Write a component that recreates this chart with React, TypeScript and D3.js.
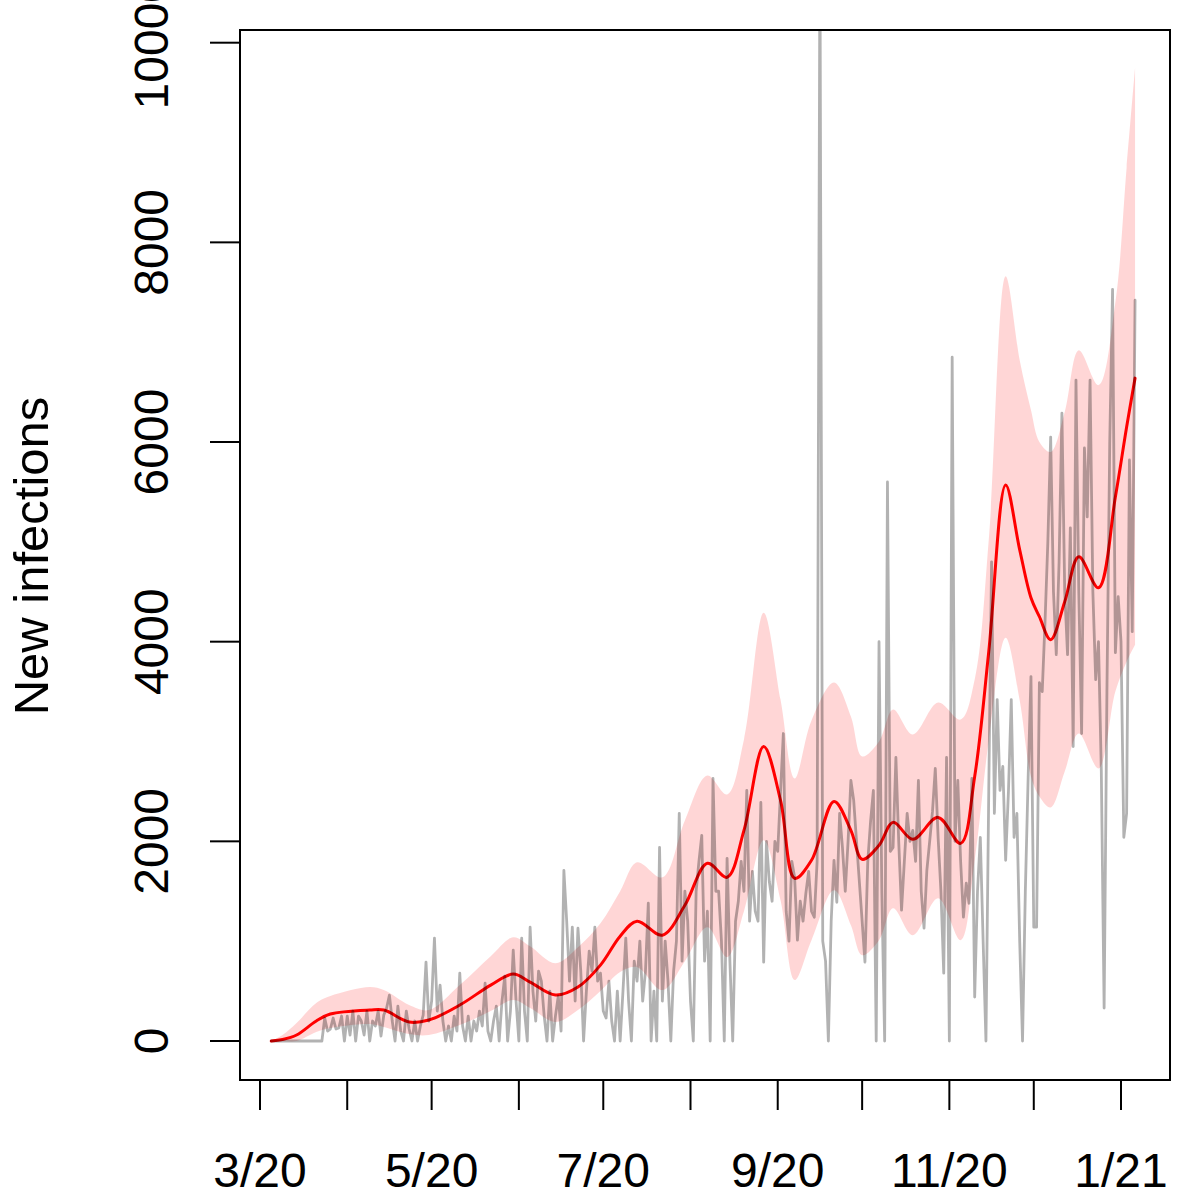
import * as d3 from 'd3'

// daily reported cases, one value per day starting 2020-03-05
const firstDay = Date.UTC(2020, 2, 5)
const newCases = [
  0, 0, 0, 0, 0, 0, 0, 0, 0, 0,
  0, 0, 0, 0, 0, 0, 0, 0, 0, 230,
  100, 120, 230, 120, 130, 250, 0, 250, 60, 300,
  0, 250, 200, 60, 300, 0, 200, 150, 300, 50,
  260, 330, 460, 200, 0, 350, 100, 0, 300, 120,
  0, 200, 0, 150, 260, 790, 200, 400, 1030, 300,
  560, 200, 0, 150, 0, 250, 100, 680, 150, 0,
  250, 0, 200, 100, 300, 150, 580, 100, 0, 200,
  350, 0, 400, 650, 0, 300, 910, 400, 0, 1030,
  300, 0, 1140, 500, 200, 700, 600, 250, 0, 500,
  0, 250, 450, 100, 1710, 1200, 600, 1140, 400, 1130,
  700, 0, 500, 900, 700, 1140, 600, 680, 300, 230,
  600, 200, 0, 500, 0, 500, 1030, 400, 0, 800,
  600, 1000, 400, 700, 1380, 0, 500, 0, 1940, 400,
  1000, 600, 0, 700, 1000, 2280, 800, 1500, 1200, 400,
  0, 1500, 1800, 2060, 800, 1300, 0, 2630, 1500, 1500,
  1000, 0, 1830, 800, 0, 1200, 1400, 1800, 1500, 2510,
  1200, 1700, 1300, 1200, 2390, 790, 2000, 1600, 1400, 2000,
  1900, 2500, 3080, 1300, 1000, 1800, 1640, 1010, 1400, 1200,
  1480, 1700, 1300, 1240, 1800, 11000, 1000, 800, 0, 1200,
  1810, 1390, 2280, 1940, 1500, 2000, 2610, 2410, 2000, 1600,
  1200, 790, 1800, 2200, 2510, 0, 4000, 1500, 0, 5600,
  1900, 1940, 2840, 2000, 1310, 1800, 2280, 2000, 2110, 1800,
  2610, 1500, 1130, 1710, 2000, 2300, 2730, 2040, 1500, 680,
  2840, 0, 6850, 2000, 2610, 1800, 1240, 1580, 1380, 2630,
  440, 1500, 2040, 1000, 0, 2500, 4800, 2280, 3420, 2510,
  2750, 1810, 2500, 3420, 2040, 2280, 1000, 0, 1500, 2640,
  3650, 1140, 1140, 3590, 3500, 4200, 5000, 6050, 4500, 3870,
  4800, 6290, 4500, 3870, 5140, 2950, 6620, 4500, 3080, 5940,
  5250, 6620, 4500, 3620, 4000, 2710, 330, 3500, 6000, 7530,
  3890, 4450, 4000, 2040, 2280, 5820, 4100, 7420,
]

// smoothed estimate and its band, knots in days since 2020-03-01
const dayZero = Date.UTC(2020, 2, 1)
const fitDays = [4, 8, 13, 20, 25, 39, 44, 53, 60, 71, 82, 90, 96, 105, 113, 121, 128, 134, 143, 151, 159, 166, 172, 179, 185, 190, 196, 204, 210, 214, 220, 225, 232, 241, 249, 254, 259, 265, 270, 274, 277, 281, 286, 291, 298, 304, 308, 311]
const fitValues = [0, 15, 60, 200, 270, 310, 310, 190, 210, 360, 560, 670, 590, 460, 540, 760, 1050, 1200, 1060, 1360, 1780, 1640, 2110, 2950, 2410, 1630, 1810, 2400, 2110, 1820, 1960, 2190, 2020, 2240, 1980, 2650, 3900, 5570, 4920, 4440, 4250, 4020, 4400, 4850, 4540, 5450, 6150, 6640]
const upperValues = [0, 60, 180, 380, 450, 540, 510, 360, 310, 560, 850, 1040, 950, 780, 940, 1180, 1500, 1790, 1640, 2210, 2660, 2470, 3020, 4290, 3420, 2630, 3210, 3590, 3250, 2850, 3000, 3320, 3070, 3390, 3220, 3620, 5020, 7660, 6820, 6320, 6000, 5900, 6300, 6920, 6570, 7400, 8750, 9750]
const lowerValues = [0, 0, 0, 90, 130, 170, 140, 70, 60, 160, 300, 410, 330, 190, 310, 500, 690, 740, 510, 800, 1140, 840, 1300, 2010, 1410, 610, 1010, 1510, 1160, 860, 1010, 1330, 1060, 1430, 1010, 1810, 3010, 4040, 3410, 2650, 2450, 2340, 2700, 3080, 2730, 3500, 3800, 3970]

const monthTicks = ['2020-03-01', '2020-04-01', '2020-05-01', '2020-06-01', '2020-07-01', '2020-08-01', '2020-09-01', '2020-10-01', '2020-11-01', '2020-12-01', '2021-01-01']
const monthLabels = ['3/20', '', '5/20', '', '7/20', '', '9/20', '', '11/20', '', '1/21']
const yTicks = [0, 2000, 4000, 6000, 8000, 10000]

const DAY = 86400000
const box = { left: 240, right: 1170, top: 30, bottom: 1080 }
const font = '"Liberation Sans", Arial, Helvetica, sans-serif'

export default function App() {
  const x = d3.scaleUtc()
    .domain([new Date('2020-03-01T00:00:00Z'), new Date('2021-01-01T00:00:00Z')])
    .range([260, 1121])
  const y = d3.scaleLinear().domain([0, 10000]).range([1041, 42.7])

  const cases = newCases.map((v, i) => ({ date: new Date(firstDay + i * DAY), v }))
  const knot = (d: number) => new Date(dayZero + d * DAY)

  const rawLine = d3.line<{ date: Date; v: number }>()
    .x(d => x(d.date)).y(d => y(d.v))
  const smooth = d3.line<[number, number]>()
    .x(d => x(knot(d[0]))).y(d => y(d[1]))
    .curve(d3.curveCatmullRom.alpha(0.5))

  const fit = fitDays.map((d, i) => [d, fitValues[i]] as [number, number])
  const upper = fitDays.map((d, i) => [d, upperValues[i]] as [number, number])
  const lower = fitDays.map((d, i) => [d, lowerValues[i]] as [number, number]).reverse()
  const bandPath = smooth(upper) + 'L' + (smooth(lower) || '').slice(1) + 'Z'

  return (
    <svg width={1200} height={1200} style={{ position: 'absolute', left: 0, top: 0, background: '#fff' }}>
      <defs>
        <clipPath id="plotArea">
          <rect x={box.left} y={box.top} width={box.right - box.left} height={box.bottom - box.top} />
        </clipPath>
      </defs>

      <g clipPath="url(#plotArea)">
        <path d={bandPath} fill="#ff0000" fillOpacity={0.16} stroke="none" />
        <path d={smooth(fit) || ''} fill="none" stroke="#ff0000" strokeWidth={3} strokeLinejoin="round" strokeLinecap="round" />
        <path d={rawLine(cases) || ''} fill="none" stroke="#000" strokeOpacity={0.3} strokeWidth={2.8} strokeLinejoin="round" strokeLinecap="round" />
      </g>

      <rect x={box.left} y={box.top} width={box.right - box.left} height={box.bottom - box.top}
        fill="none" stroke="#000" strokeWidth={2} />

      {monthTicks.map((m, i) => {
        const tx = x(new Date(m + 'T00:00:00Z'))
        return (
          <g key={m}>
            <line x1={tx} x2={tx} y1={box.bottom} y2={box.bottom + 30} stroke="#000" strokeWidth={2} />
            {monthLabels[i] && (
              <text x={tx} y={1187} textAnchor="middle" fontFamily={font} fontSize={48}>{monthLabels[i]}</text>
            )}
          </g>
        )
      })}

      {yTicks.map(t => (
        <g key={t}>
          <line x1={box.left - 30} x2={box.left} y1={y(t)} y2={y(t)} stroke="#000" strokeWidth={2} />
          <text transform={`translate(168,${y(t)}) rotate(-90)`} textAnchor="middle" fontFamily={font} fontSize={48}>{t}</text>
        </g>
      ))}

      <text transform="translate(48,556) rotate(-90)" textAnchor="middle" fontFamily={font} fontSize={49}>New infections</text>
    </svg>
  )
}
